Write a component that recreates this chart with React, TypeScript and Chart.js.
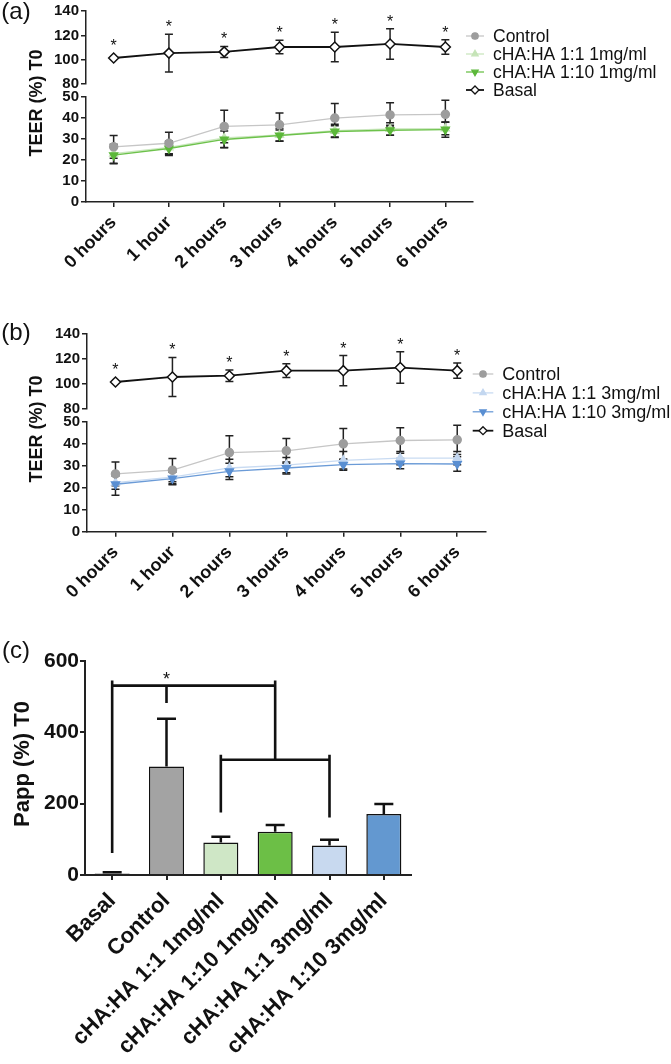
import React, { useEffect, useRef } from 'react';
import { Chart, registerables } from 'chart.js';

Chart.register(...registerables);

const FONT = "'Liberation Sans', Arial, Helvetica, sans-serif";
Chart.defaults.font.family = FONT;
Chart.defaults.color = '#111';

// ---------------- data ----------------
const hourLabels = ['0 hours', '1 hour', '2 hours', '3 hours', '4 hours', '5 hours', '6 hours'];

const basalTEER = [101.5, 105.5, 106.5, 110.5, 110.5, 113, 110.5];
const basalSd = [0, 15.5, 4.5, 5.5, 12, 12.5, 6];
const basalSig = ['*', '*', '*', '*', '*', '*', '*'];

const controlTEER = [26.3, 28, 36, 36.8, 40, 41.5, 41.8];
const controlSd = [5.4, 5.3, 7.7, 5.6, 7, 5.8, 6.7];

const ha11_1mgTEER = [23, 26, 30.5, 32, 34, 34.8, 35];
const ha11_1mgSd = [4.5, 3, 4.5, 3, 3, 3, 3];
const ha110_1mgTEER = [22.3, 25.5, 29.8, 31.7, 33.6, 34.2, 34.5];
const ha110_1mgSd = [4.1, 3.3, 4, 2.6, 2.8, 2.4, 3.6];

const ha11_3mgTEER = [22.3, 24.8, 29, 30.3, 32.5, 33.5, 33.5];
const ha11_3mgSd = [3, 3, 4, 3.5, 4, 3, 3];
const ha110_3mgTEER = [21.6, 24.2, 27.5, 29, 30.5, 31, 30.8];
const ha110_3mgSd = [5, 2.8, 3.7, 2.7, 2.5, 2.3, 3.3];

const teerTopRange = [80, 140, 20];
const teerBottomRange = [0, 50, 10];

const pappGroups = ['Basal', 'Control', 'cHA:HA 1:1 1mg/ml', 'cHA:HA 1:10 1mg/ml', 'cHA:HA 1:1 3mg/ml', 'cHA:HA 1:10 3mg/ml'];
const pappValues = [4, 304, 91, 121, 83, 171];
const pappSd = [4, 134, 16, 19, 16, 28];
const pappRange = [0, 600, 200];

// significance brackets (category indices and values in Papp units)
const bracketFrom = [0, 2];
const bracketTo = [3, 4];
const bracketLevel = [531, 323];
const bracketLeftEnd = [62, 175];
const bracketRightEnd = [323, 161];
const bracketMid = [1, -1];
const bracketMidEnd = [482, 0];
const bracketStar = ['*', ''];

// ---------------- helpers ----------------
function drawMarker(ctx: any, style: string, rot: number, x: number, y: number, r: number, fill: string, stroke: string, lw: number) {
  ctx.save();
  ctx.fillStyle = fill;
  ctx.strokeStyle = stroke;
  ctx.lineWidth = lw;
  ctx.beginPath();
  if (style === 'circle') {
    ctx.arc(x, y, r, 0, Math.PI * 2);
  } else if (style === 'triangle') {
    const s = rot === 180 ? -1 : 1;
    ctx.moveTo(x, y - s * r);
    ctx.lineTo(x + r * 0.87, y + s * r * 0.5);
    ctx.lineTo(x - r * 0.87, y + s * r * 0.5);
    ctx.closePath();
  } else {
    ctx.moveTo(x, y - r);
    ctx.lineTo(x + r, y);
    ctx.lineTo(x, y + r);
    ctx.lineTo(x - r, y);
    ctx.closePath();
  }
  ctx.fill();
  ctx.stroke();
  ctx.restore();
}

function errorBarsPlugin(cfg: { capHalf: number; width: number; color: string; upOnly: boolean; after: boolean }) {
  const draw = (chart: any) => {
    const ctx = chart.ctx;
    ctx.save();
    ctx.strokeStyle = cfg.color;
    ctx.lineWidth = cfg.width;
    chart.data.datasets.forEach((ds: any, i: number) => {
      if (!ds.sd) return;
      const meta = chart.getDatasetMeta(i);
      const ys = chart.scales[meta.yAxisID];
      meta.data.forEach((el: any, j: number) => {
        const v = ds.data[j];
        const e = ds.sd[j];
        if (!e) return;
        const x = el.x;
        const hi = ys.getPixelForValue(v + e);
        const lo = cfg.upOnly ? ys.getPixelForValue(v) : ys.getPixelForValue(v - e);
        ctx.beginPath();
        ctx.moveTo(x, lo);
        ctx.lineTo(x, hi);
        ctx.moveTo(x - cfg.capHalf, hi);
        ctx.lineTo(x + cfg.capHalf, hi);
        if (!cfg.upOnly) {
          ctx.moveTo(x - cfg.capHalf, lo);
          ctx.lineTo(x + cfg.capHalf, lo);
        }
        ctx.stroke();
      });
    });
    ctx.restore();
  };
  return cfg.after ? { id: 'errA', afterDatasetsDraw: draw } : { id: 'errB', beforeDatasetsDraw: draw };
}

const starsPlugin = {
  id: 'stars',
  afterDatasetsDraw(chart: any) {
    const ctx = chart.ctx;
    chart.data.datasets.forEach((ds: any, i: number) => {
      if (!ds.sig) return;
      const meta = chart.getDatasetMeta(i);
      const ys = chart.scales[meta.yAxisID];
      meta.data.forEach((el: any, j: number) => {
        const top = Math.min(ys.getPixelForValue(ds.data[j] + (ds.sd[j] || 0)), el.y - 5);
        ctx.save();
        ctx.fillStyle = '#111';
        ctx.font = `16px ${FONT}`;
        ctx.textAlign = 'center';
        ctx.textBaseline = 'alphabetic';
        ctx.fillText(ds.sig[j], el.x, top - 11 + 9);
        ctx.restore();
      });
    });
  },
};

function legendPlugin(lg: { x: number; y: number; dy: number; len: number; gap: number; size: number }) {
  return {
    id: 'customLegend',
    afterDraw(chart: any) {
      const ctx = chart.ctx;
      chart.data.datasets.forEach((ds: any, i: number) => {
        const y = lg.y + i * lg.dy;
        ctx.save();
        ctx.strokeStyle = ds.borderColor;
        ctx.lineWidth = ds.borderWidth;
        ctx.beginPath();
        ctx.moveTo(lg.x, y);
        ctx.lineTo(lg.x + lg.len, y);
        ctx.stroke();
        drawMarker(ctx, ds.pointStyle, ds.pointRotation, lg.x + lg.len / 2, y, ds.pointRadius * 0.8, ds.pointBackgroundColor, ds.pointBorderColor, 1.3);
        ctx.fillStyle = '#111';
        ctx.font = `${lg.size}px ${FONT}`;
        ctx.textBaseline = 'middle';
        ctx.textAlign = 'left';
        ctx.fillText(ds.label, lg.x + lg.len + lg.gap, y + 1);
        ctx.restore();
      });
    },
  };
}

type TextItem = { text: string; x: number; y: number; size: number; bold: boolean; rot: number };
function textPlugin(items: TextItem[]) {
  return {
    id: 'texts',
    afterDraw(chart: any) {
      const ctx = chart.ctx;
      items.forEach((t) => {
        ctx.save();
        ctx.translate(t.x, t.y);
        ctx.rotate((t.rot * Math.PI) / 180);
        ctx.fillStyle = '#111';
        ctx.font = `${t.bold ? 'bold ' : ''}${t.size}px ${FONT}`;
        ctx.textAlign = 'center';
        ctx.textBaseline = 'middle';
        ctx.fillText(t.text, 0, 0);
        ctx.restore();
      });
    },
  };
}

const bracketPlugin = {
  id: 'brackets',
  afterDatasetsDraw(chart: any) {
    const ctx = chart.ctx;
    const xs = chart.scales.x;
    const ys = chart.scales.y;
    ctx.save();
    ctx.strokeStyle = '#111';
    ctx.lineWidth = 2.6;
    bracketFrom.forEach((f, i) => {
      const x1 = xs.getPixelForValue(f);
      const x2 = xs.getPixelForValue(bracketTo[i]);
      const yl = ys.getPixelForValue(bracketLevel[i]);
      ctx.beginPath();
      ctx.moveTo(x1, yl);
      ctx.lineTo(x2, yl);
      ctx.moveTo(x1, yl - 5);
      ctx.lineTo(x1, ys.getPixelForValue(bracketLeftEnd[i]));
      ctx.moveTo(x2, yl - 5);
      ctx.lineTo(x2, ys.getPixelForValue(bracketRightEnd[i]));
      if (bracketMid[i] >= 0) {
        const xm = xs.getPixelForValue(bracketMid[i]);
        ctx.moveTo(xm, yl);
        ctx.lineTo(xm, ys.getPixelForValue(bracketMidEnd[i]));
      }
      ctx.stroke();
      if (bracketStar[i] && bracketMid[i] >= 0) {
        const xm = xs.getPixelForValue(bracketMid[i]);
        ctx.fillStyle = '#111';
        ctx.font = `18px ${FONT}`;
        ctx.textAlign = 'center';
        ctx.textBaseline = 'alphabetic';
        ctx.fillText(bracketStar[i], xm, yl - 11 + 10);
      }
    });
    ctx.restore();
  },
};

// ---------------- chart builders ----------------
type Series = {
  label: string; data: number[]; sd: number[]; line: string; fill: string; stroke: string;
  style: string; rot: number; radius: number; width: number; axis: string; order: number; sig?: string[];
};

type Geo = {
  top: number; right: number; leftW: number; weights: number[]; xH: number;
  legend: { x: number; y: number; dy: number; len: number; gap: number; size: number };
  texts: TextItem[];
};

const tickGrid = { display: true, drawOnChartArea: false, drawTicks: true, tickLength: 5, color: '#222', lineWidth: 1.5 };
const axisBorder = { display: true, color: '#222', width: 1.5 };

function lineConfig(series: Series[], g: Geo): any {
  const datasets = series.map((s) => ({
    label: s.label,
    data: s.data,
    sd: s.sd,
    sig: s.sig,
    yAxisID: s.axis,
    borderColor: s.line,
    borderWidth: s.width,
    backgroundColor: s.fill,
    pointBackgroundColor: s.fill,
    pointBorderColor: s.stroke,
    pointBorderWidth: 1.5,
    pointStyle: s.style,
    pointRotation: s.rot,
    pointRadius: s.radius,
    pointHoverRadius: s.radius,
    fill: false,
    tension: 0,
    order: s.order,
  }));
  const yTicks = { font: { size: 15, weight: 'bold' }, color: '#111', padding: 2, autoSkip: false };
  const yBase = (w: number) => ({
    type: 'linear',
    position: 'left',
    stack: 'teer',
    grid: tickGrid,
    border: axisBorder,
    afterFit: (s: any) => { s.width = w; },
  });
  return {
    type: 'line',
    data: { labels: hourLabels, datasets },
    options: {
      animation: false,
      responsive: false,
      events: [],
      layout: { autoPadding: false, padding: { top: g.top, right: g.right, left: 0, bottom: 0 } },
      plugins: { legend: { display: false }, tooltip: { enabled: false } },
      scales: {
        x: {
          type: 'category',
          offset: true,
          grid: { ...tickGrid, offset: false },
          border: axisBorder,
          ticks: { autoSkip: false, minRotation: 45, maxRotation: 45, font: { size: 18, weight: 'bold' }, color: '#111', padding: 5 },
          afterFit: (s: any) => { s.height = g.xH; },
        },
        yTop: {
          ...yBase(g.leftW), weight: 3, stackWeight: g.weights[0],
          min: teerTopRange[0], max: teerTopRange[1],
          ticks: { ...yTicks, stepSize: teerTopRange[2], count: 4 },
        },
        yGap: {
          type: 'linear', position: 'left', stack: 'teer', weight: 2, stackWeight: g.weights[1], min: 0, max: 1,
          grid: { display: false }, border: { display: false }, ticks: { display: false },
          afterFit: (s: any) => { s.width = g.leftW; },
        },
        yBot: {
          ...yBase(g.leftW), weight: 1, stackWeight: g.weights[2],
          min: teerBottomRange[0], max: teerBottomRange[1],
          ticks: { ...yTicks, stepSize: teerBottomRange[2], count: 6 },
        },
      },
    },
    plugins: [errorBarsPlugin({ capHalf: 4, width: 1.5, color: '#222', upOnly: false, after: false }), starsPlugin, legendPlugin(g.legend), textPlugin(g.texts)],
  };
}

const seriesA: Series[] = [
  { label: 'Control', data: controlTEER, sd: controlSd, line: '#c6c6c6', fill: '#9d9d9d', stroke: '#9d9d9d', style: 'circle', rot: 0, radius: 4, width: 1.3, axis: 'yBot', order: 1 },
  { label: 'cHA:HA 1:1 1mg/ml', data: ha11_1mgTEER, sd: ha11_1mgSd, line: '#cbe7bf', fill: '#c6e4b8', stroke: '#c6e4b8', style: 'triangle', rot: 0, radius: 4.5, width: 1.3, axis: 'yBot', order: 3 },
  { label: 'cHA:HA 1:10 1mg/ml', data: ha110_1mgTEER, sd: ha110_1mgSd, line: '#6dc24b', fill: '#5cb83a', stroke: '#5cb83a', style: 'triangle', rot: 180, radius: 4.5, width: 1.3, axis: 'yBot', order: 2 },
  { label: 'Basal', data: basalTEER, sd: basalSd, sig: basalSig, line: '#111', fill: '#fff', stroke: '#111', style: 'rectRot', radius: 5, width: 1.8, axis: 'yTop', order: 0 },
];

const seriesB: Series[] = [
  { label: 'Control', data: controlTEER, sd: controlSd, line: '#c6c6c6', fill: '#9d9d9d', stroke: '#9d9d9d', style: 'circle', rot: 0, radius: 4, width: 1.3, axis: 'yBot', order: 1 },
  { label: 'cHA:HA 1:1 3mg/ml', data: ha11_3mgTEER, sd: ha11_3mgSd, line: '#c9dbf2', fill: '#c3d7f0', stroke: '#c3d7f0', style: 'triangle', rot: 0, radius: 4.5, width: 1.3, axis: 'yBot', order: 3 },
  { label: 'cHA:HA 1:10 3mg/ml', data: ha110_3mgTEER, sd: ha110_3mgSd, line: '#6b9bd7', fill: '#5a8fd2', stroke: '#5a8fd2', style: 'triangle', rot: 180, radius: 4.5, width: 1.3, axis: 'yBot', order: 2 },
  { label: 'Basal', data: basalTEER, sd: basalSd, sig: basalSig, line: '#111', fill: '#fff', stroke: '#111', style: 'rectRot', radius: 5, width: 1.8, axis: 'yTop', order: 0 },
];

const geoA: Geo = {
  top: 9, right: 671 - 473, leftW: 86, weights: [74, 13, 106], xH: 310 - 202,
  legend: { x: 466, y: 36, dy: 18, len: 18, gap: 9, size: 17.5 },
  texts: [
    { text: '(a)', x: 16, y: 12, size: 24, bold: false, rot: 0 },
    { text: 'TEER (%) T0', x: 37, y: 103, size: 18, bold: true, rot: -90 },
  ],
};

const geoB: Geo = {
  top: 13.5, right: 671 - 485.7, leftW: 87, weights: [75.5, 12.7, 109.7], xH: 315 - 211.7,
  legend: { x: 472.7, y: 54, dy: 18.9, len: 20.6, gap: 9, size: 18 },
  texts: [
    { text: '(b)', x: 16, y: 13, size: 24, bold: false, rot: 0 },
    { text: 'TEER (%) T0', x: 37, y: 109, size: 18, bold: true, rot: -90 },
  ],
};

function barConfig(): any {
  return {
    type: 'bar',
    data: {
      labels: pappGroups,
      datasets: [
        {
          label: 'Papp',
          data: pappValues,
          sd: pappSd,
          backgroundColor: ['#3a3a3a', '#a3a3a3', '#cfe7c6', '#6cbf46', '#c8d9ef', '#6398d0'],
          borderColor: '#111',
          borderWidth: 1.5,
          barPercentage: 0.645,
          categoryPercentage: 1,
        },
      ],
    },
    options: {
      animation: false,
      responsive: false,
      events: [],
      layout: { autoPadding: false, padding: { top: 26, right: 671 - 411, left: 0, bottom: 0 } },
      plugins: { legend: { display: false }, tooltip: { enabled: false } },
      scales: {
        x: {
          type: 'category',
          offset: true,
          grid: { ...tickGrid, offset: false, lineWidth: 2 },
          border: { ...axisBorder, width: 2 },
          ticks: { autoSkip: false, minRotation: 45, maxRotation: 45, font: { size: 22, weight: 'bold' }, color: '#111', padding: 8 },
          afterFit: (s: any) => { s.height = 189; },
        },
        y: {
          type: 'linear',
          min: pappRange[0],
          max: pappRange[1],
          grid: { ...tickGrid, lineWidth: 2 },
          border: { ...axisBorder, width: 2 },
          ticks: { stepSize: pappRange[2], autoSkip: false, font: { size: 21, weight: 'bold' }, color: '#111', padding: 1 },
          afterFit: (s: any) => { s.width = 85; },
        },
      },
    },
    plugins: [
      errorBarsPlugin({ capHalf: 9.5, width: 2.5, color: '#111', upOnly: true, after: true }),
      bracketPlugin,
      textPlugin([
        { text: '(c)', x: 16, y: 16, size: 24, bold: false, rot: 0 },
        { text: 'Papp (%) T0', x: 22.5, y: 129, size: 22, bold: true, rot: -90 },
      ]),
    ],
  };
}

// ---------------- components ----------------
function ChartCanvas({ top, height, make }: { top: number; height: number; make: () => any }) {
  const ref = useRef<HTMLCanvasElement | null>(null);
  useEffect(() => {
    if (!ref.current) return;
    const chart = new Chart(ref.current, make());
    return () => chart.destroy();
  }, []);
  return (
    <canvas
      ref={ref}
      width={671}
      height={height}
      style={{ position: 'absolute', left: 0, top, width: 671, height }}
    />
  );
}

export default function App() {
  return (
    <div style={{ position: 'absolute', left: 0, top: 0, width: 671, height: 1064, background: '#fff' }}>
      <ChartCanvas top={0} height={310} make={() => lineConfig(seriesA, geoA)} />
      <ChartCanvas top={320} height={315} make={() => lineConfig(seriesB, geoB)} />
      <ChartCanvas top={635} height={429} make={barConfig} />
    </div>
  );
}
